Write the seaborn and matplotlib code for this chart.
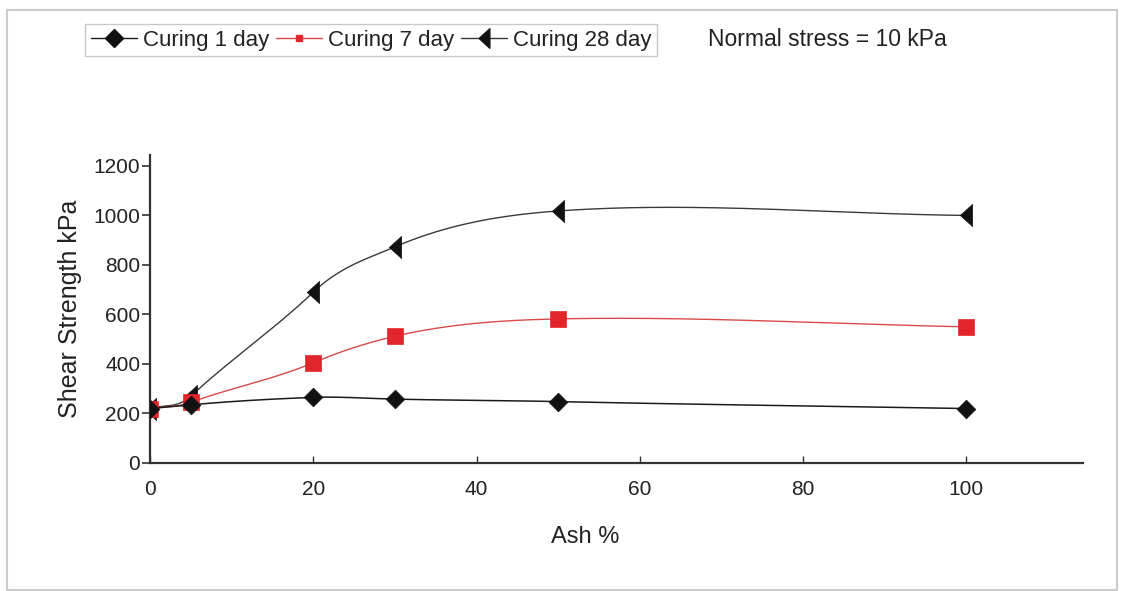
import numpy as np
import pandas as pd
import matplotlib
matplotlib.use("Agg")
import matplotlib.pyplot as plt
from matplotlib.lines import Line2D
from matplotlib.patches import Rectangle
import seaborn as sns

# ---- data ----
ash_pct = [0, 5, 20, 30, 50, 100]
curing_1_day = [220, 235, 265, 258, 248, 220]
curing_7_day = [220, 245, 405, 512, 582, 550]
curing_28_day = [220, 270, 690, 873, 1018, 1000]
series_names = ["Curing 1 day", "Curing 7 day", "Curing 28 day"]
x_ticks = [0, 20, 40, 60, 80, 100]
y_ticks = [0, 200, 400, 600, 800, 1000, 1200]

sns.set_theme(style="ticks")
plt.rcParams["font.family"] = ["Liberation Sans", "DejaVu Sans"]


def smooth_curve(xs, ys, n=80, k=1.3):
    """Smoothed line through the points (cubic Hermite with cardinal tangents)."""
    x = np.asarray(xs, float)
    y = np.asarray(ys, float)
    m = np.empty_like(y)
    m[1:-1] = (y[2:] - y[:-2]) / (x[2:] - x[:-2])
    m[0] = (y[1] - y[0]) / (x[1] - x[0])
    m[-1] = (y[-1] - y[-2]) / (x[-1] - x[-2])
    m *= k
    m[0] /= k
    m[-1] /= k
    X, Y = [], []
    for i in range(len(x) - 1):
        h = x[i + 1] - x[i]
        t = np.linspace(0, 1, n)
        h00 = 2 * t ** 3 - 3 * t ** 2 + 1
        h10 = t ** 3 - 2 * t ** 2 + t
        h01 = -2 * t ** 3 + 3 * t ** 2
        h11 = t ** 3 - t ** 2
        yy = h00 * y[i] + h10 * h * m[i] + h01 * y[i + 1] + h11 * h * m[i + 1]
        xx = x[i] + t * h
        if i > 0:
            xx, yy = xx[1:], yy[1:]
        X.append(xx)
        Y.append(yy)
    return np.concatenate(X), np.concatenate(Y)


fig = plt.figure(figsize=(11.23, 5.91), dpi=100)
ax = fig.add_axes([0.1336, 0.2166, 0.9644 - 0.1336, 0.7377 - 0.2166])

tall_left_tri = [(-0.55, 0.0), (0.55, 1.0), (0.55, -1.0), (-0.55, 0.0)]

styles = {
    "Curing 1 day": dict(color="#111111", line="#1a1a1a", marker="D", ms=9.5, lms=9, lw=1.1),
    "Curing 7 day": dict(color="#e0262a", line="#d84a4a", marker="s", ms=12, lms=5, lw=1.0),
    "Curing 28 day": dict(color="#111111", line="#3a3a3a", marker=tall_left_tri, ms=16, lms=14, lw=1.0),
}
values = {"Curing 1 day": curing_1_day, "Curing 7 day": curing_7_day, "Curing 28 day": curing_28_day}

for name in ["Curing 28 day", "Curing 7 day", "Curing 1 day"]:
    st = styles[name]
    cx, cy = smooth_curve(ash_pct, values[name])
    cdf = pd.DataFrame({"x": cx, "y": cy})
    sns.lineplot(data=cdf, x="x", y="y", sort=False, estimator=None, ax=ax,
                 color=st["line"], linewidth=st["lw"], zorder=2)
    pdf = pd.DataFrame({"x": ash_pct, "y": values[name]})
    sns.scatterplot(data=pdf, x="x", y="y", ax=ax, marker=st["marker"], s=st["ms"] ** 2,
                    color=st["color"], edgecolor=st["color"], linewidth=0.5, zorder=3)

ax.set_xlim(0, 114.3)
ax.set_ylim(0, 1244)
ax.set_xticks(x_ticks)
ax.set_yticks(y_ticks)
ax.tick_params(axis="x", direction="in", length=5, width=1, colors="#333333", labelsize=15,
               labelcolor="#222222", pad=12)
ax.tick_params(axis="y", direction="out", length=6, width=1.2, colors="#333333", labelsize=15,
               labelcolor="#222222", pad=1)
sns.despine(ax=ax)
for sp in ["left", "bottom"]:
    ax.spines[sp].set_color("#333333")
    ax.spines[sp].set_linewidth(1.6)

ax.set_xlabel("Ash %", fontsize=17, color="#222222")
ax.xaxis.set_label_coords(0.466, -0.205)
ax.set_ylabel("Shear Strength kPa", fontsize=18, color="#222222", labelpad=8)

handles = []
for name in series_names:
    st = styles[name]
    handles.append(Line2D([0], [0], color=st["line"], lw=1.0, marker=st["marker"],
                          markersize=st["lms"], markerfacecolor=st["color"],
                          markeredgecolor=st["color"]))
leg = fig.legend(handles, series_names, loc="upper left", bbox_to_anchor=(85 / 1123, 1 - 24 / 591),
                 ncol=3, frameon=True, fancybox=False, fontsize=16, handlelength=2.1,
                 handletextpad=0.25, columnspacing=0.3, borderpad=0.25, borderaxespad=0)
leg.get_frame().set_edgecolor("#bbbbbb")
leg.get_frame().set_linewidth(1.0)
for t in leg.get_texts():
    t.set_color("#222222")

fig.text(708 / 1123, 1 - 40 / 591, "Normal stress = 10 kPa", fontsize=16.5, color="#222222",
         va="center", ha="left")

fig.add_artist(Rectangle((7 / 1123, 1 / 591), (1117 - 7) / 1123, (590 - 10) / 591,
                         transform=fig.transFigure, fill=False, edgecolor="#cccccc", lw=1.5))

fig.savefig("out.png", dpi=100)
